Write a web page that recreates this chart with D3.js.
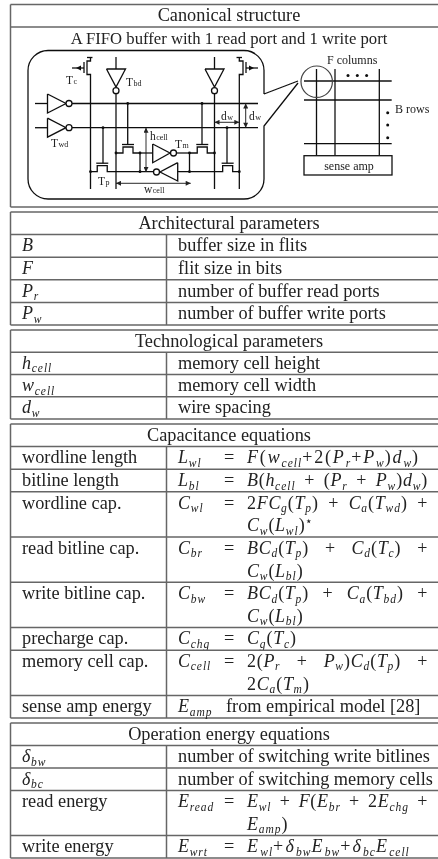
<!DOCTYPE html>
<html>
<head>
  <meta charset="UTF-8">
  <script src="https://d3js.org/d3.v7.min.js"></script>
  <title>FIFO buffer power model</title>
  <style>
    html, body { margin: 0; padding: 0; background: #fff; }
    svg { display: block; }
    text { font-family: "Liberation Serif", serif; fill: #222; white-space: pre; }
  </style>
</head>
<body>
  <svg id="chart"></svg>
  <script>
    // table contents, _ makes a subscript and ^ a superscript
    var canonicalTitle = "Canonical structure";
    var canonicalCaption = "A FIFO buffer with 1 read port and 1 write port";

    var archTitle = "Architectural parameters";
    var archSymbols = ["B", "F", "P_r", "P_w"];
    var archLabels = ["buffer size in flits", "flit size in bits", "number of buffer read ports", "number of buffer write ports"];

    var techTitle = "Technological parameters";
    var techSymbols = ["h_{cell}", "w_{cell}", "d_w"];
    var techLabels = ["memory cell height", "memory cell width", "wire spacing"];

    var capTitle = "Capacitance equations";
    var capLabels = ["wordline length", "bitline length", "wordline cap.", "read bitline cap.", "write bitline cap.", "precharge cap.", "memory cell cap.", "sense amp energy"];
    var capSymbols = ["L_{wl}", "L_{bl}", "C_{wl}", "C_{br}", "C_{bw}", "C_{chg}", "C_{cell}", "E_{amp}"];
    var capEquations = [
      ["F(w_{cell}+2(P_r+P_w)d_w)"],
      ["B(h_{cell} + (P_r + P_w)d_w)"],
      ["2FC_g(T_p) + C_a(T_{wd}) +", "C_w(L_{wl})^⋆"],
      ["BC_d(T_p) + C_d(T_c) +", "C_w(L_{bl})"],
      ["BC_d(T_p) + C_a(T_{bd}) +", "C_w(L_{bl})"],
      ["C_g(T_c)"],
      ["2(P_r + P_w)C_d(T_p) +", "2C_a(T_m)"],
      null
    ];
    var senseNote = "from empirical model [28]";

    var opTitle = "Operation energy equations";
    var opLabels = ["δ_{bw}", "δ_{bc}", "read energy", "write energy"];
    var opSymbols = [null, null, "E_{read}", "E_{wrt}"];
    var opDescriptions = ["number of switching write bitlines", "number of switching memory cells", null, null];
    var opEquations = [
      null,
      null,
      ["E_{wl} + F(E_{br} + 2E_{chg} +", "E_{amp})"],
      ["E_{wl}+δ_{bw}E_{bw}+δ_{bc}E_{cell}"]
    ];

    var width = 438;
    var height = 859;
    var fontSize = 18.3;
    var mathSize = 18;
    var mathTrack = 0.7;
    var subSize = 11.5;
    var leftEdge = 10.5;
    var rightEdge = 440;
    var divider = 166.5;
    var col1 = 22;
    var col2 = 178;
    var eqX = 224;
    var rhsX = 247;
    var rhsEnd = 428;

    var svg = d3.select("#chart")
      .attr("width", width)
      .attr("height", height);

    var defs = svg.append("defs");
    defs.append("filter").attr("id", "soft")
      .attr("filterUnits", "userSpaceOnUse")
      .attr("x", 0).attr("y", 0).attr("width", width).attr("height", height)
      .append("feGaussianBlur").attr("stdDeviation", 0.5);
    defs.append("marker").attr("id", "arrow")
      .attr("viewBox", "0 0 6 6").attr("refX", 6).attr("refY", 3)
      .attr("markerUnits", "userSpaceOnUse")
      .attr("markerWidth", 6).attr("markerHeight", 5)
      .attr("orient", "auto-start-reverse")
      .append("path").attr("d", "M0,0L6,3L0,6Z").attr("fill", "#222");

    var root = svg.append("g").attr("filter", "url(#soft)");
    var ruleColor = "#666";

    // turns "C_{wl}" into runs of text with italic and sub/superscript
    function parseMath(str) {
      var runs = [];
      function push(ch, level) {
        var italic = /[A-Za-zδ]/.test(ch);
        var last = runs[runs.length - 1];
        if (last && last.level === level && last.italic === italic) last.text += ch;
        else runs.push({text: ch, level: level, italic: italic});
      }
      for (var i = 0; i < str.length; i++) {
        var c = str[i];
        if (c === "_" || c === "^") {
          var level = c === "_" ? 1 : -1;
          if (str[i + 1] === "{") {
            var end = str.indexOf("}", i);
            for (var j = i + 2; j < end; j++) push(str[j], level);
            i = end;
          } else {
            push(str[i + 1], level);
            i++;
          }
        } else {
          push(c, 0);
        }
      }
      return runs;
    }

    function mathText(str, x, y) {
      var t = root.append("text").attr("x", x).attr("y", y)
        .attr("font-size", mathSize)
        .style("letter-spacing", mathTrack + "px");
      var prev = 0;
      t.selectAll("tspan").data(parseMath(str)).join("tspan")
        .text(function(d) { return d.text; })
        .attr("font-style", function(d) { return d.italic ? "italic" : "normal"; })
        .attr("font-size", function(d) { return d.level === 0 ? mathSize : subSize; })
        .attr("letter-spacing", function(d) { return d.level === 0 ? null : 1; })
        .attr("dy", function(d) {
          var off = d.level === 1 ? 3.5 : d.level === -1 ? -6 : 0;
          var dy = off - prev;
          prev = off;
          return dy;
        });
      return t;
    }

    // stretch or squeeze a line so that it ends at the column edge like the typeset one
    function justify(t, x) {
      var natural = t.node().getComputedTextLength();
      var gap = rhsEnd - x - natural;
      var str = t.text();
      var spaces = str.split(" ").length - 1;
      if (spaces > 0 && gap > 0) t.style("word-spacing", (gap / spaces) + "px");
      else t.style("letter-spacing", (mathTrack + gap / str.length) + "px");
    }

    function plainText(str, x, y, anchor, size) {
      return root.append("text").attr("x", x).attr("y", y)
        .attr("font-size", size || fontSize)
        .attr("text-anchor", anchor || "start")
        .text(str);
    }

    function rule(x1, y1, x2, y2, w) {
      root.append("line")
        .attr("x1", x1).attr("y1", y1).attr("x2", x2).attr("y2", y2)
        .attr("stroke", ruleColor).attr("stroke-width", w || 1.5);
    }

    // one boxed section: title row, then rows that are one or more lines tall
    function section(top, bottom, title, rows) {
      var total = 1 + d3.sum(rows, function(r) { return r.lines; });
      var y = d3.scaleLinear().domain([0, total]).range([top, bottom]);

      rule(leftEdge, top, rightEdge, top);
      rule(leftEdge, bottom, rightEdge, bottom);
      rule(leftEdge, top, leftEdge, bottom);
      rule(leftEdge, y(1), rightEdge, y(1));
      plainText(title, 229, (y(0) + y(1)) / 2 + 5.8, "middle");

      var at = 1;
      rows.forEach(function(r, i) {
        if (i > 0) rule(leftEdge, y(at), rightEdge, y(at));
        rule(divider, y(at), divider, y(at + r.lines));
        var base = (y(at) + y(at + 1)) / 2 + 5.5;
        if (r.label) plainText(r.label, col1, base);
        if (r.math) mathText(r.math, col1, base);
        if (r.text) plainText(r.text, col2, base);
        if (r.lhs) {
          mathText(r.lhs, col2, base);
          if (r.note) {
            plainText(r.note, eqX + 2, base);
          } else {
            plainText("=", eqX, base);
            r.rhs.forEach(function(line, k) {
              var t = mathText(line, rhsX, (y(at + k) + y(at + k + 1)) / 2 + 5.5);
              if (k === 0 && line.length > 12) justify(t, rhsX);
            });
          }
        }
        at += r.lines;
      });
    }

    section(212, 325, archTitle, archSymbols.map(function(s, i) {
      return {lines: 1, math: s, text: archLabels[i]};
    }));

    section(330, 419, techTitle, techSymbols.map(function(s, i) {
      return {lines: 1, math: s, text: techLabels[i]};
    }));

    section(424, 718, capTitle, capLabels.map(function(l, i) {
      var eq = capEquations[i];
      return {lines: eq ? eq.length : 1, label: l, lhs: capSymbols[i], rhs: eq, note: eq ? null : senseNote};
    }));

    section(723, 858, opTitle, opLabels.map(function(l, i) {
      if (opDescriptions[i]) return {lines: 1, math: l, text: opDescriptions[i]};
      return {lines: opEquations[i].length, label: l, lhs: opSymbols[i], rhs: opEquations[i]};
    }));

    // canonical structure box
    rule(leftEdge, 4.5, rightEdge, 4.5);
    rule(leftEdge, 27, rightEdge, 27);
    rule(leftEdge, 207, rightEdge, 207);
    rule(leftEdge, 4.5, leftEdge, 207);
    plainText(canonicalTitle, 229, 21, "middle");
    plainText(canonicalCaption, 229, 43.5, "middle", 16.7);

    // circuit schematic
    var ink = "#111";
    var sketch = root.append("g");

    function wire(points, w) {
      sketch.append("path")
        .attr("d", d3.line()(points))
        .attr("fill", "none").attr("stroke", ink).attr("stroke-width", w || 1.3);
    }
    function dot(x, y, r) {
      sketch.append("circle").attr("cx", x).attr("cy", y).attr("r", r || 1.4).attr("fill", ink);
    }
    function ring(x, y, r) {
      sketch.append("circle").attr("cx", x).attr("cy", y).attr("r", r)
        .attr("fill", "#fff").attr("stroke", ink).attr("stroke-width", 1.3);
    }
    function arrow(x1, y1, x2, y2) {
      sketch.append("line")
        .attr("x1", x1).attr("y1", y1).attr("x2", x2).attr("y2", y2)
        .attr("stroke", ink).attr("stroke-width", 0.9)
        .attr("marker-start", "url(#arrow)").attr("marker-end", "url(#arrow)");
    }
    function label(main, sub, x, y) {
      var t = sketch.append("text").attr("x", x).attr("y", y).attr("font-size", 11.5);
      t.append("tspan").text(main);
      if (sub) t.append("tspan").attr("font-size", 8).attr("dx", 0.5).text(sub);
    }

    // speech bubble outline around the cell
    var bubble = d3.path();
    bubble.moveTo(264, 94);
    bubble.lineTo(264, 70);
    bubble.arcTo(264, 50.5, 244, 50.5, 20);
    bubble.lineTo(48, 50.5);
    bubble.arcTo(28, 50.5, 28, 70, 20);
    bubble.lineTo(28, 179);
    bubble.arcTo(28, 199, 48, 199, 20);
    bubble.lineTo(244, 199);
    bubble.arcTo(264, 199, 264, 179, 20);
    bubble.lineTo(264, 126);
    bubble.lineTo(298, 83);
    bubble.moveTo(264, 94);
    bubble.lineTo(298, 81);
    sketch.append("path").attr("d", bubble.toString())
      .attr("fill", "none").attr("stroke", ink).attr("stroke-width", 1.3);

    // wordlines and their drivers
    [103.5, 127.7].forEach(function(wy) {
      wire([[35, wy], [47.5, wy]]);
      wire([[47.5, wy - 9.5], [66, wy], [47.5, wy + 9.5], [47.5, wy - 9.5]]);
      ring(69, wy, 3);
      wire([[72, wy], [258, wy]]);
    });

    // bitlines, write drivers on the inner pair
    [116, 214.5].forEach(function(bx) {
      wire([[bx, 57], [bx, 69]]);
      wire([[bx - 9.5, 69], [bx + 9.5, 69], [bx, 87], [bx - 9.5, 69]]);
      ring(bx, 90.7, 3);
      wire([[bx, 94], [bx, 189]]);
    });

    // precharge transistors at the top of the outer bitlines
    wire([[87, 57.5], [92.5, 57.5]]);
    wire([[90.5, 57.5], [90.5, 61], [87, 61], [87, 74.5], [90.5, 74.5], [90.5, 189]]);
    wire([[84, 62], [84, 73]]);
    wire([[72, 68], [84, 68]]);
    sketch.append("path").attr("d", d3.line()([[76, 68], [81, 65.5], [81, 70.5]])).attr("fill", ink);

    wire([[236.5, 57.5], [242, 57.5]]);
    wire([[239.3, 57.5], [239.3, 61], [243, 61], [243, 74.5], [239.3, 74.5], [239.3, 189]]);
    wire([[246, 62], [246, 73]]);
    wire([[246, 68], [258, 68]]);
    sketch.append("path").attr("d", d3.line()([[254, 68], [249, 65.5], [249, 70.5]])).attr("fill", ink);

    // access transistor helper, gate comes down from a wordline
    function access(x1, x2, y, gateX, wordY) {
      var mid = (x1 + x2) / 2;
      wire([[x1, y], [mid - 5, y], [mid - 5, y - 6], [mid + 5, y - 6], [mid + 5, y], [x2, y]]);
      wire([[mid - 6, y - 8.5], [mid + 6, y - 8.5]]);
      wire([[gateX, wordY], [gateX, y - 8.5]]);
      dot(gateX, wordY);
    }
    access(116, 140, 153, 127.7, 103.5);
    access(190, 214.5, 153, 202, 103.5);
    access(90.5, 114, 171.7, 103, 127.7);
    access(216, 239.3, 171.7, 227, 127.7);

    // cross coupled inverters
    wire([[140, 153], [152.7, 153]]);
    wire([[152.7, 144], [152.7, 162.7], [170, 153], [152.7, 144]]);
    ring(173.5, 153, 3);
    wire([[176.5, 153], [190, 153]]);
    wire([[114, 171.7], [153.5, 171.7]]);
    wire([[177.7, 162.7], [177.7, 181], [160, 172], [177.7, 162.7]]);
    ring(156.5, 172, 3);
    wire([[177.7, 171.7], [216, 171.7]]);
    wire([[140, 153], [140, 171.7]]);
    wire([[189.5, 153], [189.5, 171.7]]);
    [[116, 153], [140, 153], [189.5, 153], [214.5, 153], [90.5, 171.7], [140, 171.7], [189.5, 171.7], [239.3, 171.7]].forEach(function(p) {
      dot(p[0], p[1]);
    });

    // dimension arrows
    arrow(146, 127.7, 146, 172);
    arrow(116, 183.3, 190.7, 183.3);
    arrow(214.5, 122.3, 239.3, 122.3);
    arrow(245.7, 103.5, 245.7, 127.7);

    label("T", "c", 66, 84);
    label("T", "bd", 126, 86);
    label("T", "wd", 51, 147);
    label("T", "p", 98, 185);
    label("T", "m", 175, 148);
    label("h", "cell", 150, 140);
    label("w", "cell", 144, 193);
    label("d", "w", 221, 120);
    label("d", "w", 249, 120);

    // array of cells on the right
    [316.5, 335, 379.3].forEach(function(x) { wire([[x, 69], [x, 155.7]]); });
    [81, 100, 143.7].forEach(function(y) { wire([[304, y], [391.7, y]]); });
    sketch.append("circle").attr("cx", 316.7).attr("cy", 81.7).attr("r", 15.7)
      .attr("fill", "none").attr("stroke", "#444").attr("stroke-width", 1.2);
    sketch.append("rect").attr("x", 304).attr("y", 155.7).attr("width", 88).attr("height", 19.3)
      .attr("fill", "#fff").attr("stroke", ink).attr("stroke-width", 1.3);
    sketch.append("text").attr("x", 349).attr("y", 169.5).attr("text-anchor", "middle")
      .attr("font-size", 12).text("sense amp");
    sketch.append("text").attr("x", 327).attr("y", 64).attr("font-size", 12).text("F columns");
    sketch.append("text").attr("x", 395).attr("y", 113).attr("font-size", 12).text("B rows");
    [348, 357.3, 366.6].forEach(function(x) { dot(x, 75.5, 1.5); });
    [112.7, 125, 137.7].forEach(function(y) { dot(387.7, y, 1.5); });
  </script>
</body>
</html>
